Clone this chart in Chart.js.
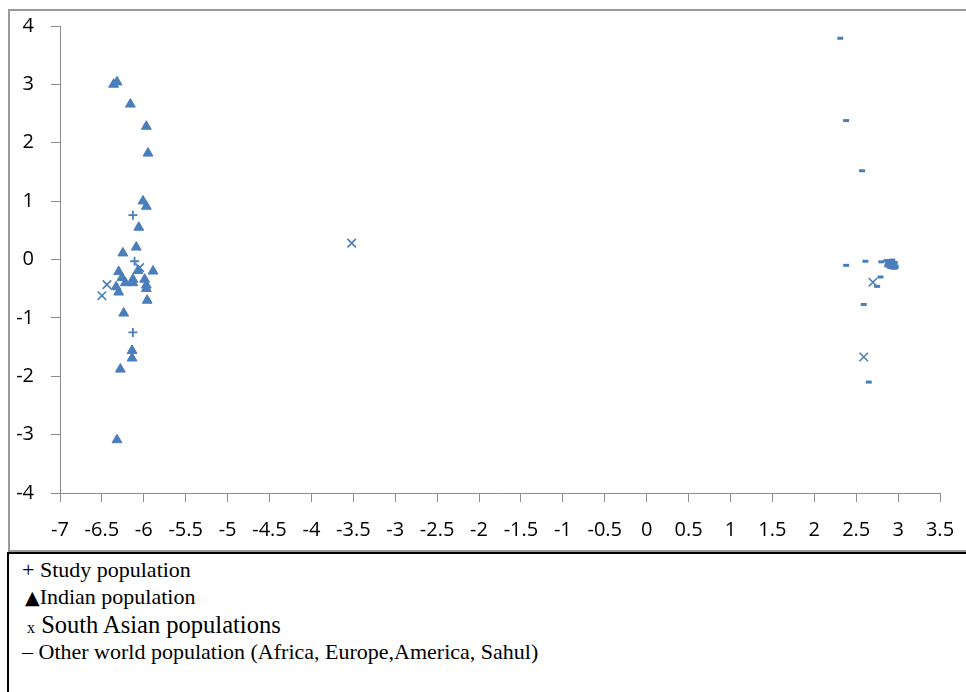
<!DOCTYPE html>
<html>
<head>
<meta charset="utf-8">
<script src="https://cdn.jsdelivr.net/npm/chart.js@4.4.1/dist/chart.umd.min.js"></script>
<style>
    body { margin: 0; background: #fff; width: 966px; height: 692px; overflow: hidden; position: relative; }
    #frame { position: absolute; left: 8px; top: 9px; width: 1000px; height: 543px; box-sizing: border-box; border: 2px solid #9a9a9a; }
    #wrap { position: absolute; left: 0; top: 0; width: 966px; height: 551px; }
    #key { position: absolute; left: 7px; top: 552px; width: 1000px; height: 200px; box-sizing: border-box; border: 2px solid #000;
           font-family: "Liberation Serif", "Times New Roman", serif; color: #000; }
    #key div { position: absolute; white-space: nowrap; line-height: 1; }
</style>
</head>
<body>
<div id="frame"></div>
<div id="wrap"><canvas id="pcaPlot"></canvas></div>
<div id="key">
    <div style="left:13px; top:5px; font-size:22px;">+ Study population</div>
    <div style="left:16px; top:32px; font-size:22px;"><span style="font-family:'DejaVu Sans'; font-size:19px;">&#9650;</span>Indian population</div>
    <div style="left:18px; top:59px;"><span style="font-size:16px;">x</span><span style="font-size:24.5px;"> South Asian populations</span></div>
    <div style="left:13px; top:87px; font-size:22px;">&ndash; Other world population (Africa, Europe,America, Sahul)</div>
</div>
<script>
const studyX = [-6.13, -6.11, -6.13];
const studyY = [0.76, -0.03, -1.25];

const indianX = [-6.32, -6.36, -6.16, -5.97, -5.95, -6.01, -5.97, -6.06, -6.09, -6.25,
                 -6.07, -5.89, -6.30, -6.26, -6.13, -5.99, -6.22, -6.13, -5.97, -6.33,
                 -5.97, -6.30, -5.96, -6.24, -6.14, -6.14, -6.28, -6.32];
const indianY = [3.04, 3.00, 2.66, 2.28, 1.82, 1.00, 0.91, 0.55, 0.21, 0.11,
                 -0.19, -0.20, -0.21, -0.31, -0.34, -0.34, -0.40, -0.40, -0.44, -0.47,
                 -0.50, -0.56, -0.70, -0.92, -1.56, -1.69, -1.88, -3.09];

const southAsianX = [-6.44, -6.50, -6.05, -3.52, 2.70, 2.59];
const southAsianY = [-0.43, -0.62, -0.14, 0.28, -0.39, -1.67];

const otherX = [2.31, 2.38, 2.57, 2.38, 2.61, 2.80, 2.86, 2.88, 2.90, 2.92, 2.89, 2.93,
                2.95, 2.91, 2.94, 2.97, 2.88, 2.96, 2.92, 2.95, 2.90, 2.97, 2.93, 2.87,
                2.79, 2.75, 2.59, 2.65];
const otherY = [3.79, 2.38, 1.52, -0.10, -0.03, -0.04, -0.02, -0.03, -0.02, -0.04, -0.06, -0.07,
                -0.09, -0.10, -0.12, -0.11, -0.08, -0.05, -0.14, -0.15, -0.13, -0.14, -0.01, -0.11,
                -0.30, -0.46, -0.77, -2.10];

const xTicks = { min: -7, max: 3.5, step: 0.5 };
const yTicks = { min: -4, max: 4, step: 1 };

const blue = '#4a7ebb';
const axisGrey = '#8c8c8c';
const tickFont = { family: '"Open Sans", sans-serif', size: 20 };

function toPoints(xs, ys) {
    return xs.map((x, i) => ({ x: x, y: ys[i] }));
}

function plainNumber(value) {
    return String(Number(value.toFixed(1)));
}

const ctx = document.getElementById('pcaPlot').getContext('2d');
new Chart(ctx, {
    type: 'scatter',
    data: {
        datasets: [
            { label: 'Study population', data: toPoints(studyX, studyY),
              pointStyle: 'cross', pointRadius: 4.5, borderWidth: 1.8, borderColor: blue, backgroundColor: blue },
            { label: 'Indian population', data: toPoints(indianX, indianY),
              pointStyle: 'triangle', pointRadius: 5.7, borderWidth: 1, borderColor: blue, backgroundColor: blue },
            { label: 'South Asian populations', data: toPoints(southAsianX, southAsianY),
              pointStyle: 'crossRot', pointRadius: 6, borderWidth: 1.6, borderColor: blue, backgroundColor: blue },
            { label: 'Other world population', data: toPoints(otherX, otherY),
              pointStyle: 'line', pointRadius: 3, borderWidth: 3, borderColor: blue, backgroundColor: blue }
        ]
    },
    options: {
        responsive: true,
        maintainAspectRatio: false,
        animation: false,
        layout: { padding: { left: 0, right: 26, top: 26, bottom: 0 } },
        plugins: {
            legend: { display: false },
            tooltip: { enabled: false }
        },
        scales: {
            x: {
                type: 'linear',
                min: xTicks.min,
                max: xTicks.max,
                afterFit: function(scale) {
                    scale.height = 58;
                    scale.paddingLeft = 0;
                    scale.paddingRight = 0;
                },
                grid: { drawOnChartArea: false, drawTicks: true, tickLength: 9, color: axisGrey },
                border: { display: true, color: axisGrey, width: 1 },
                ticks: { stepSize: xTicks.step, autoSkip: false, maxRotation: 0, color: '#000', font: tickFont, padding: 16,
                         callback: plainNumber }
            },
            y: {
                type: 'linear',
                min: yTicks.min,
                max: yTicks.max,
                afterFit: function(scale) {
                    scale.width = 60;
                    scale.paddingTop = 0;
                    scale.paddingBottom = 0;
                },
                grid: { drawOnChartArea: false, drawTicks: true, tickLength: 9, color: axisGrey },
                border: { display: true, color: axisGrey, width: 1 },
                ticks: { stepSize: yTicks.step, color: '#000', font: tickFont, padding: 17, callback: plainNumber }
            }
        }
    }
});
</script>
</body>
</html>
